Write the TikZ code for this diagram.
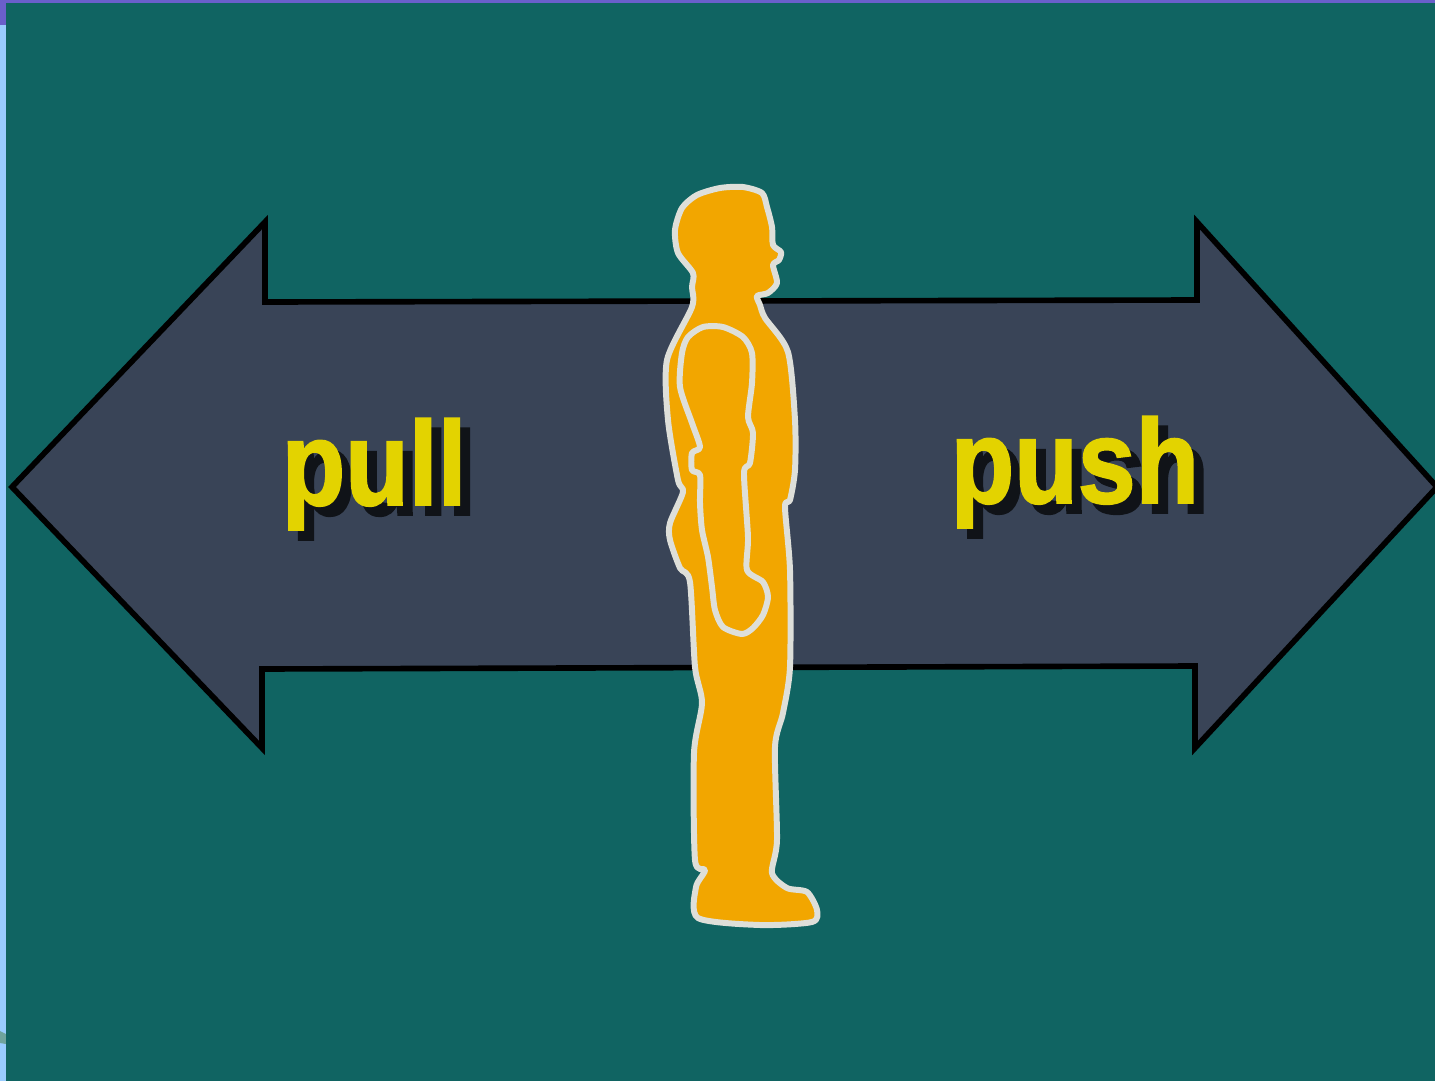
\documentclass[tikz,border=0pt]{standalone}
\usepackage{fontspec}
\newfontfamily\labelfont[FakeStretch=0.87,FakeBold=1.6]{Liberation Sans Bold}
\usepackage{xcolor}
\usetikzlibrary{calc}
\definecolor{teal}{HTML}{106462}
\definecolor{slatebg}{HTML}{394457}
\definecolor{bodyorange}{HTML}{F2A600}
\definecolor{bodyline}{HTML}{DEDFD9}
\definecolor{wordyellow}{HTML}{E3D300}
\definecolor{wordshadow}{HTML}{101318}
\definecolor{edgepurple}{HTML}{6A5FCB}
\definecolor{edgeblue}{HTML}{99CCFF}
\definecolor{edgesmudge}{HTML}{6FA39C}

\begin{document}
\begin{tikzpicture}[
  x=0.01cm,y=-0.01cm,
  word/.style={anchor=base west,inner sep=0pt,font=\labelfont\fontsize{34}{34}\selectfont},
  toptext/.style={word,text=wordyellow},
  backtext/.style={word,text=wordshadow},
  arrowband/.style={draw=black,fill=slatebg,line width=1.6pt,line join=miter},
  bodyedge/.style={draw=bodyline,line width=1.7pt,line join=round}
]
\useasboundingbox (0,0) rectangle (1435,1081);
\clip (0,0) rectangle (1435,1081);
% page edges
\fill[edgeblue] (0,0) rectangle (6,1081);
\fill[edgepurple] (0,0) rectangle (1435,3);
\fill[edgepurple] (0,0) rectangle (6,25);
\fill[edgesmudge] (0,1031) -- (6,1034) -- (6,1044) -- (0,1043) -- cycle;
\fill[teal] (6,3) rectangle (1435,1081);
% double arrow
\draw[arrowband] (12,487) -- (265,222) -- (265,302) -- (1197,300) -- (1197,222)
  -- (1437,487) -- (1195,748) -- (1195,666) -- (262,669) -- (262,748) -- cycle;
% labels
\node[backtext] (pullback) at (291,515) {pull};
\node[toptext] (pull) at (281,505) {pull};
\node[backtext] (pushback) at (960,513) {push};
\node[toptext] (push) at (950,503) {push};
% figure
\draw[bodyedge,fill=bodyorange] plot[smooth cycle,tension=0.45] coordinates {
  (720,188) (743,187) (762,193) (767,207) (772,227) (773,245) (781,252) (779,260)
  (773,265) (777,283) (768,293) (757,296) (760,305) (765,318) (788,352) (795,420)
  (795,470) (790,500) (785,507) (790,570) (790,667) (783,713) (775,747) (777,840)
  (772,873) (787,888) (807,892) (817,910) (812,922) (760,925) (698,918) (696,887)
  (705,870) (695,860) (694,753) (702,703) (695,667) (690,582) (680,568) (670,540)
  (670,523) (683,492) (678,480) (668,420) (667,360) (692,307) (692,287) (693,273)
  (678,253) (675,230) (682,208) (697,195)};
\draw[bodyedge] plot[smooth cycle,tension=0.45] coordinates {
  (700,447) (692,423) (680,387) (682,353) (688,337) (703,327) (723,327) (743,337)
  (752,353) (752,383) (748,417) (753,433) (750,463) (744,473) (748,537) (747,570)
  (763,582) (768,597) (763,615) (753,628) (742,634) (723,627) (715,610) (712,587)
  (708,557) (702,530) (700,503) (700,475) (692,470) (692,453)};
\end{tikzpicture}
\end{document}
